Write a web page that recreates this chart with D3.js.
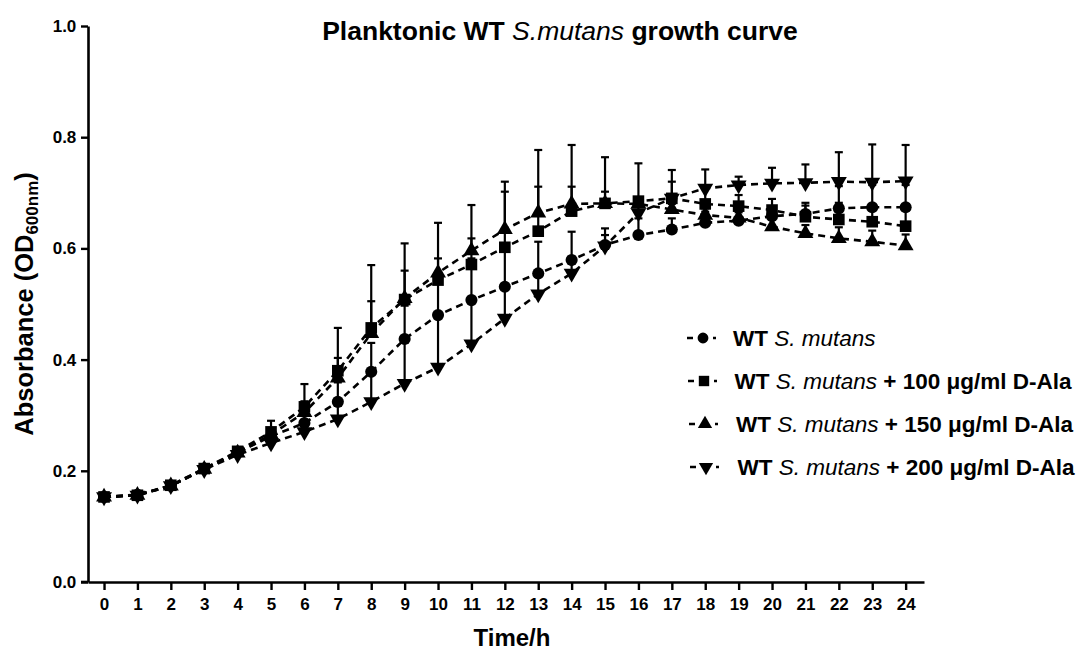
<!DOCTYPE html>
<html>
<head>
<meta charset="utf-8">
<script src="https://cdn.jsdelivr.net/npm/d3@7"></script>
<style>
  body { margin: 0; background: #fff; }
  svg text { font-family: "Liberation Sans", Arial, sans-serif; fill: #000; }
</style>
</head>
<body>
<svg id="chart"></svg>
<script>
// Data (OD600, mean and upper error bar)
const hours = d3.range(0, 25);

const wt      = [0.153, 0.157, 0.173, 0.204, 0.233, 0.262, 0.286, 0.324, 0.378, 0.437, 0.480, 0.507, 0.531, 0.555, 0.579, 0.606, 0.624, 0.634, 0.646, 0.650, 0.658, 0.662, 0.672, 0.674, 0.674];
const wtErr   = [0, 0, 0, 0, 0.004, 0.010, 0.015, 0.035, 0.052, 0.060, 0.070, 0.075, 0.070, 0.057, 0.051, 0.030, 0.030, 0.020, 0.020, 0.015, 0.015, 0.020, 0.040, 0.040, 0.040];

const ala100    = [0.153, 0.156, 0.174, 0.204, 0.235, 0.270, 0.315, 0.380, 0.457, 0.508, 0.543, 0.571, 0.602, 0.631, 0.667, 0.681, 0.685, 0.690, 0.680, 0.676, 0.669, 0.657, 0.652, 0.648, 0.640];
const ala100Err = [0, 0, 0, 0, 0.004, 0.020, 0.041, 0.077, 0.113, 0.101, 0.103, 0.107, 0.118, 0.146, 0.119, 0.083, 0.068, 0.030, 0.030, 0.020, 0.020, 0.020, 0.030, 0.030, 0.030];

const ala150    = [0.153, 0.156, 0.173, 0.203, 0.232, 0.265, 0.305, 0.367, 0.447, 0.510, 0.556, 0.596, 0.634, 0.664, 0.680, 0.681, 0.680, 0.670, 0.660, 0.655, 0.639, 0.627, 0.618, 0.612, 0.605];
const ala150Err = [0, 0, 0, 0, 0.004, 0.010, 0.020, 0.036, 0.058, 0.050, 0.026, 0.022, 0.068, 0.047, 0.031, 0.021, 0.010, 0.010, 0.012, 0.012, 0.015, 0.015, 0.020, 0.020, 0.020];

const ala200    = [0.153, 0.156, 0.173, 0.202, 0.229, 0.250, 0.270, 0.293, 0.324, 0.357, 0.386, 0.428, 0.474, 0.518, 0.555, 0.604, 0.664, 0.690, 0.708, 0.714, 0.717, 0.718, 0.720, 0.719, 0.721];
const ala200Err = [0, 0, 0, 0, 0.004, 0.010, 0.016, 0.030, 0.050, 0.080, 0.094, 0.080, 0.060, 0.040, 0.030, 0.020, 0.020, 0.051, 0.034, 0.015, 0.028, 0.033, 0.053, 0.068, 0.065];

const seriesNames = ["", "+ 100 μg/ml D-Ala", "+ 150 μg/ml D-Ala", "+ 200 μg/ml D-Ala"];
const yTicks = [0.0, 0.2, 0.4, 0.6, 0.8, 1.0];

const series = [
  { values: wt,     err: wtErr,     shape: d3.symbolCircle,   size: 115, rot: 0,   label: seriesNames[0] },
  { values: ala100, err: ala100Err, shape: d3.symbolSquare,   size: 135, rot: 0,   label: seriesNames[1] },
  { values: ala150, err: ala150Err, shape: d3.symbolTriangle, size: 110, rot: 0,   label: seriesNames[2] },
  { values: ala200, err: ala200Err, shape: d3.symbolTriangle, size: 110, rot: 180, label: seriesNames[3] }
];

const width = 1080, height = 654;
const svg = d3.select("#chart").attr("width", width).attr("height", height);

const x = d3.scaleLinear().domain([-0.48, 24.55]).range([88, 924]);
const y = d3.scaleLinear().domain([0, 1]).range([582, 26]);

// Axes
const xAxis = svg.append("g")
    .attr("transform", `translate(0,${y(0)})`)
    .call(d3.axisBottom(x).tickValues(hours).tickFormat(d3.format("d")).tickSize(8).tickSizeOuter(0));
const yAxis = svg.append("g")
    .attr("transform", `translate(${x.range()[0]},0)`)
    .call(d3.axisLeft(y).tickValues(yTicks).tickFormat(d3.format(".1f")).tickSize(7).tickSizeOuter(0));

[xAxis, yAxis].forEach(g => {
  g.select(".domain").attr("stroke", "#000").attr("stroke-width", 2.6);
  g.selectAll(".tick line").attr("stroke", "#000").attr("stroke-width", 2.4);
  g.selectAll(".tick text").attr("font-size", 17).attr("font-weight", "bold")
    .attr("font-family", "Liberation Sans, Arial, sans-serif").attr("fill", "#000");
});
xAxis.selectAll(".tick text").attr("dy", "1.0em");
yAxis.selectAll(".tick text").attr("dx", "-0.1em");
// extend x axis line to the left like the 0.0 tick
svg.append("line").attr("x1", 81).attr("x2", 88).attr("y1", y(0)).attr("y2", y(0))
   .attr("stroke", "#000").attr("stroke-width", 2.6);

// Title
const title = svg.append("text").attr("x", 560).attr("y", 40).attr("text-anchor", "middle")
    .attr("font-size", 26.5).attr("font-weight", "bold");
title.append("tspan").text("Planktonic WT ");
title.append("tspan").attr("font-style", "italic").attr("font-weight", "normal").text("S.mutans");
title.append("tspan").text(" growth curve");

// Axis titles
svg.append("text").attr("x", 512).attr("y", 646).attr("text-anchor", "middle")
    .attr("font-size", 24).attr("font-weight", "bold").text("Time/h");

const yTitle = svg.append("text").attr("transform", `translate(33,${y(0.5)}) rotate(-90)`)
    .attr("text-anchor", "middle").attr("font-size", 25.5).attr("font-weight", "bold");
yTitle.append("tspan").text("Absorbance (OD");
yTitle.append("tspan").attr("font-size", 17).attr("dy", 5).text("600nm");
yTitle.append("tspan").attr("dy", -5).text(")");

// Plot layers
const plot = svg.append("g");
const line = d3.line().x((d, i) => x(hours[i])).y(d => y(d));

series.forEach(s => {
  // error bars (upper only)
  const eb = plot.append("g");
  s.values.forEach((v, i) => {
    if (s.err[i] <= 0) return;
    const top = y(v + s.err[i]);
    eb.append("line").attr("x1", x(hours[i])).attr("x2", x(hours[i]))
      .attr("y1", y(v)).attr("y2", top).attr("stroke", "#000").attr("stroke-width", 2.2);
    eb.append("line").attr("x1", x(hours[i]) - 4).attr("x2", x(hours[i]) + 4)
      .attr("y1", top).attr("y2", top).attr("stroke", "#000").attr("stroke-width", 2.2);
  });
});

series.forEach(s => {
  plot.append("path").datum(s.values).attr("d", line)
    .attr("fill", "none").attr("stroke", "#000").attr("stroke-width", 2.6)
    .attr("stroke-dasharray", "7,5");
  plot.append("g").selectAll("path").data(s.values).join("path")
    .attr("d", d3.symbol().type(s.shape).size(s.size))
    .attr("transform", (d, i) => `translate(${x(hours[i])},${y(d)}) rotate(${s.rot})`)
    .attr("fill", "#000");
});

// Legend
const legendRows = [338, 381, 424, 467];
series.forEach((s, k) => {
  const ly = legendRows[k];
  const lx = 687 + k;
  const g = svg.append("g");
  g.append("line").attr("x1", lx).attr("x2", lx + 29).attr("y1", ly).attr("y2", ly)
    .attr("stroke", "#000").attr("stroke-width", 2.4).attr("stroke-dasharray", "6,20,3");
  g.append("path").attr("d", d3.symbol().type(s.shape).size(s.size * 0.8))
    .attr("transform", `translate(${lx + 16},${ly}) rotate(${s.rot})`).attr("fill", "#000");
  const t = g.append("text").attr("x", 733 + k * 1.5).attr("y", ly + 8)
    .attr("font-size", 22.5).attr("font-weight", "bold");
  t.append("tspan").text("WT ");
  t.append("tspan").attr("font-style", "italic").attr("font-weight", "normal").text("S. mutans");
  if (s.label) t.append("tspan").text(" " + s.label);
});
</script>
</body>
</html>
